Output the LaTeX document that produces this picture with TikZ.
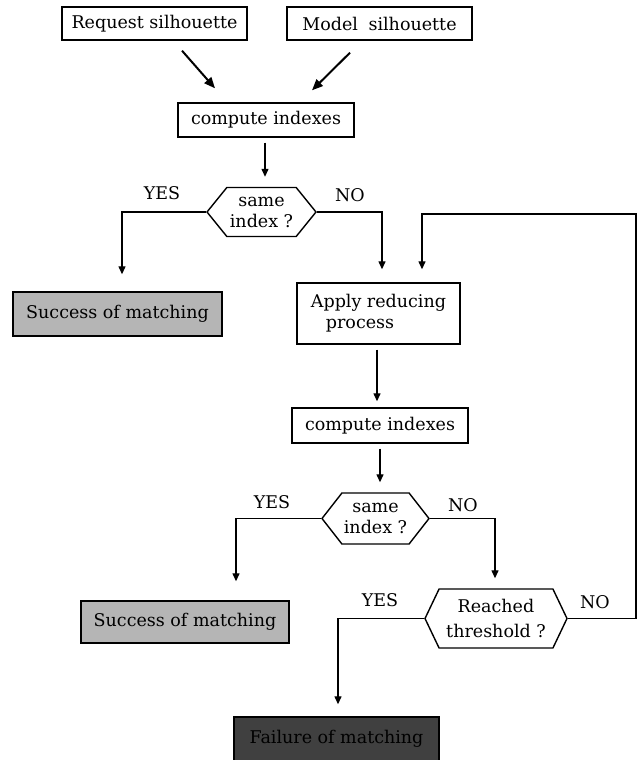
\documentclass[tikz,border=0pt]{standalone}
\usepackage{fontspec}
\setmainfont{DejaVu Serif}
\usetikzlibrary{arrows.meta,shapes.symbols}
\definecolor{okgray}{HTML}{B5B5B5}
\definecolor{badgray}{HTML}{404040}
\tikzset{
  box/.style={draw, line width=1.4pt, rectangle, inner sep=0pt, align=center,
    font=\fontsize{17.5}{21}\selectfont},
  hexa/.style={draw, line width=1.4pt, signal, signal to=west and east, inner sep=0pt,
    align=center, font=\fontsize{17.5}{21}\selectfont},
  lab/.style={font=\fontsize{17.5}{21}\selectfont, inner sep=0pt},
  conn/.style={line width=1.3pt, -{Triangle[length=8pt,width=7pt]}},
  diag/.style={line width=2pt, -{Triangle[length=11pt,width=9pt]}},
}
\begin{document}
\begin{tikzpicture}[x=1pt,y=-1pt]
\useasboundingbox (0,0) rectangle (637,760);
\begin{scope}
\clip (0,0) rectangle (637,760);
% nodes
\node[box, minimum width=185pt, minimum height=33pt] (req) at (154.5,23.5) {Request silhouette};
\node[box, minimum width=185pt, minimum height=33pt] (mod) at (379.5,23.5) {Model\hspace{5pt} silhouette};
\node[box, minimum width=176pt, minimum height=34pt] (ci1) at (266,120) {compute indexes};
\node[hexa, minimum width=109pt, minimum height=49pt, signal pointer angle=102] (h1) at (261.5,212) {same\\index ?};
\node[box, fill=okgray, minimum width=209pt, minimum height=44pt] (s1) at (117.5,314) {Success of matching};
\node[box, minimum width=163pt, minimum height=61pt, align=left] (apply) at (378.5,313.5) {Apply reducing\\\hspace*{15pt}process};
\node[box, minimum width=176pt, minimum height=35pt] (ci2) at (380,425.5) {compute indexes};
\node[hexa, minimum width=107pt, minimum height=51pt, signal pointer angle=104] (h2) at (375.5,518.5) {same\\index ?};
\node[box, fill=okgray, minimum width=208pt, minimum height=42pt] (s2) at (185,622) {Success of matching};
\node[hexa, minimum width=142pt, minimum height=59pt, signal pointer angle=129,
  font=\fontsize{17.5}{25}\selectfont] (thr) at (496,618.5) {Reached\\threshold ?};
\node[box, fill=badgray, minimum width=205pt, minimum height=44pt] (fail) at (336.5,739) {Failure of matching};
% labels
\node[lab] (y1) at (162,193) {YES};
\node[lab] (n1) at (350,195) {NO};
\node[lab] (y2) at (272,502) {YES};
\node[lab] (n2) at (463,505) {NO};
\node[lab] (y3) at (380,600) {YES};
\node[lab] (n3) at (595,602) {NO};
% connectors
\draw[diag] ([shift={(27.5,10)}]req.south) -- ([shift={(-51,-14)}]ci1.north);
\draw[diag] ([shift={(-29.5,12)}]mod.south) -- ([shift={(46,-12)}]ci1.north);
\draw[conn, shorten <=5pt, shorten >=10pt] ([xshift=-1pt]ci1.south) -- ([xshift=3.5pt]h1.north);
\draw[conn, shorten >=17pt] (h1.west) -| ([xshift=4.5pt]s1.north);
\draw[conn, shorten >=13pt] (h1.east) -| ([xshift=3.5pt]apply.north);
\coordinate (loopR) at (636,214);
\coordinate (loopX) at (422,214);
\draw[conn, shorten >=13pt] (thr.east) -| (loopR) -- (loopX) -- (loopX |- apply.north);
\draw[conn, shorten <=5pt, shorten >=6pt] ([xshift=-1.5pt]apply.south) -- ([xshift=-3pt]ci2.north);
\draw[conn, shorten <=5pt, shorten >=10pt] (ci2.south) -- ([xshift=4.5pt]h2.north);
\draw[conn, shorten >=19pt] (h2.west) -| ([xshift=51pt]s2.north);
\draw[conn, shorten >=10pt] (h2.east) -| ([xshift=-1pt]thr.north);
\draw[conn, shorten >=12pt] (thr.west) -| ([xshift=1.5pt]fail.north);
\end{scope}
\end{tikzpicture}
\end{document}
